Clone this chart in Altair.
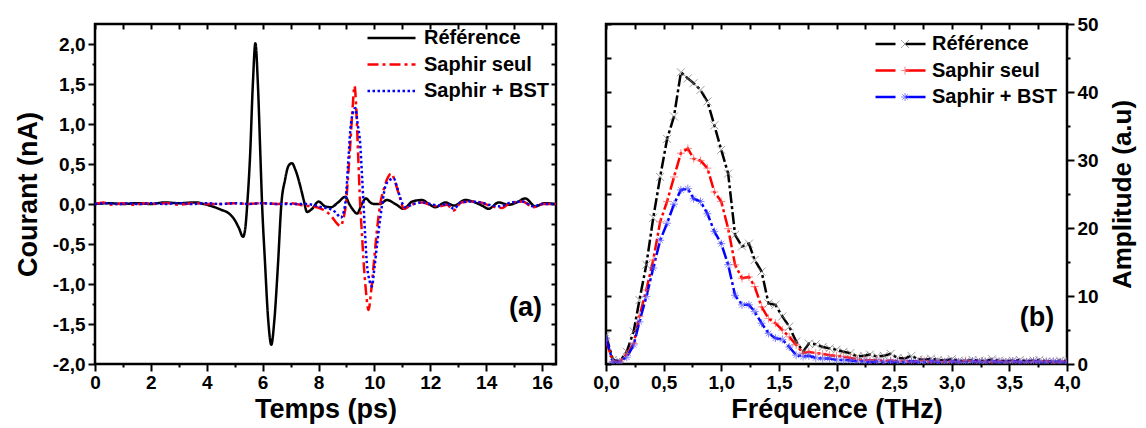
import altair as alt
import pandas as pd

FONT = "Liberation Sans"
SERIES = ["Référence", "Saphir seul", "Saphir + BST"]
MARKERS = ["Référence ×", "Saphir seul +", "Saphir + BST *"]

# ---------------- (a) time-domain signals ----------------
ref_t = [0.0, 0.5, 1.0, 1.5, 2.0, 2.5, 3.0, 3.6, 3.9, 4.2, 4.5, 4.8, 5.0, 5.15, 5.3,
         5.38, 5.45, 5.55, 5.65, 5.74, 5.83, 5.92, 5.98, 6.08, 6.2, 6.31, 6.42, 6.55,
         6.67, 6.8, 6.93, 7.05, 7.17, 7.35, 7.47, 7.59, 7.77, 8.0, 8.24, 8.45, 8.7,
         8.96, 9.1, 9.25, 9.38, 9.55, 9.7, 9.85, 10.0, 10.2, 10.45, 10.75, 11.05,
         11.35, 11.7, 11.95, 12.18, 12.54, 12.85, 13.25, 13.6, 13.85, 14.09, 14.45,
         14.8, 15.1, 15.4, 15.76, 16.1, 16.5]
ref_i = [0.0, 0.01, 0.0, 0.01, 0.0, 0.02, 0.01, 0.02, 0.0, -0.03, -0.07, -0.12, -0.2,
         -0.3, -0.41, -0.3, 0.0, 0.6, 1.5, 2.01, 1.5, 0.6, 0.0, -0.7, -1.45, -1.76,
         -1.45, -0.75, 0.0, 0.3, 0.48, 0.51, 0.43, 0.22, 0.05, -0.1, -0.06, 0.03,
         -0.03, -0.04, 0.02, 0.09, 0.0, -0.08, -0.12, 0.0, 0.07, 0.02, 0.0, 0.0, 0.05,
         0.0, -0.06, 0.03, 0.05, 0.0, -0.04, 0.02, -0.02, 0.05, 0.02, -0.02, -0.06,
         0.02, -0.01, 0.02, 0.07, -0.03, 0.01, 0.0]

seul_t = [0.0, 0.3, 0.6, 1.0, 1.4, 1.8, 2.2, 2.6, 3.0, 3.5, 4.0, 4.5, 5.0, 5.5, 6.0,
          6.5, 7.0, 7.5, 7.8, 8.1, 8.3, 8.5, 8.65, 8.78, 8.88, 8.98, 9.06, 9.14, 9.22,
          9.29, 9.35, 9.42, 9.49, 9.55, 9.61, 9.7, 9.79, 9.88, 9.98, 10.1, 10.21,
          10.35, 10.48, 10.6, 10.72, 10.85, 10.93, 11.05, 11.2, 11.4, 11.7, 12.0, 12.3,
          12.6, 12.84, 13.1, 13.4, 13.8, 14.1, 14.57, 14.9, 15.3, 15.7, 16.0, 16.5]
seul_i = [0.0, 0.02, -0.01, 0.01, -0.01, 0.01, 0.0, 0.01, -0.01, 0.01, 0.0, 0.0, 0.01,
          0.0, 0.01, 0.0, 0.01, -0.02, -0.03, -0.06, -0.1, -0.17, -0.24, -0.275, -0.2,
          0.0, 0.35, 0.76, 1.2, 1.475, 1.2, 0.6, 0.0, -0.35, -0.7, -1.1, -1.325, -1.1,
          -0.74, -0.3, 0.0, 0.2, 0.33, 0.38, 0.3, 0.15, 0.06, -0.06, -0.04, 0.0, 0.02,
          -0.01, -0.03, -0.01, -0.08, 0.02, 0.03, 0.02, -0.02, -0.05, 0.02, 0.03, -0.04,
          0.0, 0.0]

bst_t = [0.0, 0.4, 0.8, 1.2, 1.6, 2.0, 2.5, 3.0, 3.5, 4.0, 4.5, 5.0, 5.5, 6.0, 6.5,
         7.0, 7.5, 7.8, 8.1, 8.4, 8.6, 8.8, 8.9, 8.98, 9.06, 9.14, 9.24, 9.32, 9.4,
         9.49, 9.55, 9.61, 9.67, 9.73, 9.82, 9.91, 10.0, 10.1, 10.2, 10.28, 10.4,
         10.55, 10.69, 10.82, 10.95, 11.1, 11.4, 11.7, 12.0, 12.3, 12.6, 12.84, 13.1,
         13.4, 13.8, 14.1, 14.5, 14.9, 15.3, 15.7, 16.0, 16.5]
bst_i = [0.0, 0.01, 0.0, 0.01, 0.0, 0.01, 0.0, 0.01, 0.0, 0.01, 0.0, 0.01, 0.0, 0.01,
         0.0, 0.0, 0.0, -0.01, -0.04, -0.06, -0.1, -0.17, -0.1, 0.08, 0.5, 0.93, 1.15,
         1.2, 1.0, 0.76, 0.4, 0.0, -0.4, -0.74, -0.95, -1.03, -0.8, -0.49, -0.2, 0.0,
         0.23, 0.3, 0.32, 0.2, 0.05, -0.04, 0.0, 0.02, 0.0, -0.02, 0.0, -0.06, 0.02,
         0.03, 0.02, -0.01, -0.03, 0.02, 0.03, -0.03, 0.0, 0.0]

# ---------------- (b) spectra ----------------
freq = [0.00, 0.06, 0.12, 0.18, 0.24, 0.29, 0.35, 0.41, 0.47, 0.53, 0.59, 0.65, 0.71,
        0.76, 0.82, 0.88, 0.94, 1.00, 1.06, 1.12, 1.18, 1.24, 1.29, 1.35, 1.41, 1.47,
        1.53, 1.59, 1.65, 1.71, 1.76, 1.82, 1.88, 1.94, 2.00, 2.06, 2.12, 2.18, 2.24,
        2.29, 2.35, 2.41, 2.47, 2.53, 2.59, 2.65, 2.71, 2.76, 2.82, 2.88, 2.94, 3.00,
        3.06, 3.12, 3.18, 3.24, 3.29, 3.35, 3.41, 3.47, 3.53, 3.59, 3.65, 3.71, 3.76,
        3.82, 3.88, 3.94, 4.00]
amp_ref = [4.2, 0.6, 0.4, 1.8, 4.8, 9.4, 14.6, 21.5, 27.5, 33.1, 36.4, 42.9, 42.0, 41.3,
           40.3, 38.6, 35.1, 31.5, 28.0, 19.0, 17.3, 17.7, 15.3, 13.6, 8.9, 8.7, 7.0,
           5.5, 3.3,
           1.8, 3.0, 2.9, 2.5, 2.3, 2.1, 1.8, 1.6, 1.1,
           1.2, 1.4, 1.1, 1.2, 1.5, 0.9, 0.8, 1.2, 0.7, 0.6, 0.8, 0.6, 0.5, 0.7, 0.5,
           0.4, 0.6, 0.5, 0.4, 0.7, 0.5, 0.4, 0.5, 0.6, 0.4, 0.5, 0.6, 0.4, 0.3, 0.5, 0.4]
amp_seul = [3.4, 0.4, 0.3, 1.5, 3.0, 7.0, 10.9, 15.3, 20.9, 23.9, 27.5, 31.0, 31.7, 30.2,
            29.9, 28.8, 25.3, 23.9, 19.9, 14.6, 12.6, 12.8, 11.4, 8.4, 6.7, 6.0, 5.0,
            4.0, 2.8,
            1.6, 1.8, 1.6, 1.5, 1.3, 1.2, 1.1, 0.9, 0.7, 0.6,
            0.5, 0.6, 0.4, 0.5, 0.4, 0.5, 0.3, 0.4, 0.5, 0.3,
            0.4, 0.3, 0.4, 0.3, 0.5, 0.4, 0.3, 0.4, 0.3, 0.4,
            0.3, 0.4, 0.3, 0.3, 0.4, 0.3, 0.4, 0.3, 0.3, 0.4]
amp_bst = [3.8, 0.3, 0.3, 1.0, 2.8, 6.2, 9.9, 14.1, 18.2, 20.7, 23.5, 25.6, 25.8, 24.3,
           23.9, 22.1, 19.5, 17.7, 14.6, 10.1, 8.7, 8.7, 7.7, 6.0, 4.5, 3.8, 3.6, 2.5,
           1.3,
           1.1, 1.2, 0.9, 0.8, 0.8, 0.6, 0.6, 0.5, 0.4, 0.4,
           0.3, 0.4, 0.3, 0.4, 0.3, 0.3, 0.4, 0.3, 0.3, 0.4,
           0.3, 0.3, 0.4, 0.3, 0.3, 0.4, 0.3, 0.3, 0.4, 0.3,
           0.3, 0.4, 0.3, 0.3, 0.4, 0.3, 0.3, 0.4, 0.3, 0.3]

# tick values
time_major = [0, 2, 4, 6, 8, 10, 12, 14, 16]
time_minor = [1, 3, 5, 7, 9, 11, 13, 15]
time_all = [0, 1, 2, 3, 4, 5, 6, 7, 8, 9, 10, 11, 12, 13, 14, 15, 16]
cur_major = [-2.0, -1.5, -1.0, -0.5, 0.0, 0.5, 1.0, 1.5, 2.0]
cur_minor = [-1.75, -1.25, -0.75, -0.25, 0.25, 0.75, 1.25, 1.75]
cur_all = [-2.0, -1.75, -1.5, -1.25, -1.0, -0.75, -0.5, -0.25, 0.0, 0.25, 0.5, 0.75,
           1.0, 1.25, 1.5, 1.75, 2.0]
freq_major = [0.0, 0.5, 1.0, 1.5, 2.0, 2.5, 3.0, 3.5, 4.0]
freq_minor = [0.25, 0.75, 1.25, 1.75, 2.25, 2.75, 3.25, 3.75]
freq_all = [0.0, 0.25, 0.5, 0.75, 1.0, 1.25, 1.5, 1.75, 2.0, 2.25, 2.5, 2.75, 3.0,
            3.25, 3.5, 3.75, 4.0]
amp_major = [0, 10, 20, 30, 40, 50]
amp_minor = [5, 15, 25, 35, 45]
amp_all = [0, 5, 10, 15, 20, 25, 30, 35, 40, 45, 50]

label_a = ["(a)"]
label_a_t = [16.0]
label_a_i = [-1.3]
label_b = ["(b)"]
label_b_f = [3.89]
label_b_a = [6.8]

# ---------------- data frames ----------------
df_a = pd.concat([
    pd.DataFrame({"t": ref_t, "i": ref_i, "courbe": SERIES[0]}),
    pd.DataFrame({"t": seul_t, "i": seul_i, "courbe": SERIES[1]}),
    pd.DataFrame({"t": bst_t, "i": bst_i, "courbe": SERIES[2]}),
], ignore_index=True)
df_b = pd.concat([
    pd.DataFrame({"f": freq, "a": amp_ref, "spectre": SERIES[0], "marque": MARKERS[0]}),
    pd.DataFrame({"f": freq, "a": amp_seul, "spectre": SERIES[1], "marque": MARKERS[1]}),
    pd.DataFrame({"f": freq, "a": amp_bst, "spectre": SERIES[2], "marque": MARKERS[2]}),
], ignore_index=True)
df_la = pd.DataFrame({"t": label_a_t, "i": label_a_i, "txt": label_a})
df_lb = pd.DataFrame({"f": label_b_f, "a": label_b_a, "txt": label_b})

W, H = 461, 340
comma1 = "(datum.value < 0 ? '-' : '') + replace(format(abs(datum.value), '.1f'), '.', ',')"


def axis(**kw):
    d = dict(domain=False, grid=False, labelFlush=False, labelOverlap=False,
             tickColor="black", tickWidth=2)
    d.update(kw)
    return alt.Axis(**d)


def blank_axis(orient, values, size, offset=0):
    kw = dict(orient=orient, values=values, tickSize=size, labels=False, title=None)
    if offset:
        kw["offset"] = offset
    return axis(**kw)


def legend(**kw):
    d = dict(orient="none", direction="vertical", title=None, padding=0,
             clipHeight=22, rowPadding=4.5, labelFont=FONT, labelFontSize=20,
             labelFontWeight="bold", labelColor="black")
    d.update(kw)
    return alt.Legend(**d)


# ---------------- panel (a) ----------------
xa = alt.Scale(domain=[0, 16.5], nice=False, zero=False)
ya = alt.Scale(domain=[-2, 2.25], nice=False, zero=False)
leg_a = legend(legendX=271, legendY=3, symbolType="M-1,0L1,0", symbolSize=2304,
               symbolStrokeWidth=2.5, labelOffset=7)

lines_a = alt.Chart().mark_line(strokeWidth=2.5, interpolate="monotone", clip=True).encode(
    x=alt.X("t:Q", scale=xa, axis=axis(orient="bottom", values=time_major, tickSize=7,
                                       labelPadding=2, title="Temps (ps)", titlePadding=4)),
    y=alt.Y("i:Q", scale=ya, axis=axis(orient="left", values=cur_major, tickSize=7,
                                       labelPadding=3, labelExpr=comma1,
                                       title="Courant (nA)", titlePadding=10)),
    color=alt.Color("courbe:N", scale=alt.Scale(domain=SERIES, range=["#000000", "#ff0000", "#0000ff"]),
                    legend=leg_a),
    strokeDash=alt.StrokeDash("courbe:N", scale=alt.Scale(domain=SERIES, range=[[1, 0], [11, 4, 3, 4], [2.5, 2.5]]),
                              legend=leg_a),
)
minor_a = alt.Chart().mark_point(opacity=0).encode(
    x=alt.X("t:Q", scale=xa, axis=blank_axis("bottom", time_minor, 3)),
    y=alt.Y("i:Q", scale=ya, axis=blank_axis("left", cur_minor, 3)),
)
frame_a = alt.Chart().mark_point(opacity=0).encode(
    x=alt.X("t:Q", scale=xa, axis=blank_axis("bottom", time_all, 5, -H)),
    y=alt.Y("i:Q", scale=ya, axis=blank_axis("left", cur_all, 5, -W)),
)
text_a = alt.Chart(df_la).mark_text(font=FONT, fontSize=27, fontWeight="bold",
                                    align="right", baseline="middle", color="black").encode(
    x=alt.X("t:Q", scale=xa, axis=None),
    y=alt.Y("i:Q", scale=ya, axis=None),
    text="txt:N",
)
left = alt.layer(lines_a, minor_a, frame_a, text_a, data=df_a).resolve_axis(
    x="independent", y="independent").properties(width=W, height=H)

# ---------------- panel (b) ----------------
xb = alt.Scale(domain=[0, 4], nice=False, zero=False)
yb = alt.Scale(domain=[0, 50], nice=False, zero=False)
leg_b_line = legend(legendX=268, legendY=9, symbolType="M-1,0L-0.2,0M0.2,0L1,0",
                    symbolSize=2500, symbolStrokeWidth=2.5, labelOffset=5)
leg_b_mark = legend(legendX=289, legendY=9, symbolSize=64, symbolStrokeWidth=1,
                    labelExpr="''")

path_x = "M-1,-1L1,1M-1,1L1,-1"
path_plus = "M-1,0L1,0M0,-1L0,1"
path_star = "M-1,0L1,0M0,-1L0,1M-0.7,-0.7L0.7,0.7M-0.7,0.7L0.7,-0.7"

lines_b = alt.Chart().mark_line(strokeWidth=2.5, strokeDash=[12, 3, 3, 3], clip=True).encode(
    x=alt.X("f:Q", scale=xb, axis=axis(orient="bottom", values=freq_major, tickSize=7,
                                       labelPadding=2, labelExpr=comma1,
                                       title="Fréquence (THz)", titlePadding=4)),
    y=alt.Y("a:Q", scale=yb, axis=axis(orient="right", values=amp_major, tickSize=7,
                                       labelPadding=3, title="Amplitude (a.u)", titleFontSize=26,
                                       titleAngle=270, titleBaseline="top", titlePadding=11)),
    color=alt.Color("spectre:N", scale=alt.Scale(domain=SERIES, range=["#000000", "#ff0000", "#0000ff"]),
                    legend=leg_b_line),
)
pts_b = alt.Chart().mark_point(filled=False, size=64, strokeWidth=1, clip=True).encode(
    x=alt.X("f:Q", scale=xb, axis=blank_axis("bottom", freq_minor, 3)),
    y=alt.Y("a:Q", scale=yb, axis=blank_axis("right", amp_minor, 3)),
    stroke=alt.Stroke("marque:N", scale=alt.Scale(domain=MARKERS, range=["#777777", "#ff5555", "#5555ff"]),
                      legend=leg_b_mark),
    shape=alt.Shape("marque:N", scale=alt.Scale(domain=MARKERS, range=[path_x, path_plus, path_star]),
                    legend=leg_b_mark),
)
frame_b = alt.Chart().mark_point(opacity=0).encode(
    x=alt.X("f:Q", scale=xb, axis=blank_axis("bottom", freq_all, 5, -H)),
    y=alt.Y("a:Q", scale=yb, axis=blank_axis("right", amp_all, 5, -W)),
)
text_b = alt.Chart(df_lb).mark_text(font=FONT, fontSize=27, fontWeight="bold",
                                    align="right", baseline="middle", color="black").encode(
    x=alt.X("f:Q", scale=xb, axis=None),
    y=alt.Y("a:Q", scale=yb, axis=None),
    text="txt:N",
)
right = alt.layer(lines_b, pts_b, frame_b, text_b, data=df_b).resolve_axis(
    x="independent", y="independent").properties(width=W, height=H)

chart = alt.hconcat(left, right, spacing=50, bounds="flush").resolve_scale(
    x="independent", y="independent", color="independent", strokeDash="independent",
    stroke="independent", shape="independent"
).properties(
    padding={"left": 5, "top": 5, "right": 0, "bottom": 0},
    background="white",
).configure_view(
    stroke="black", strokeWidth=2.5
).configure_axis(
    labelFont=FONT, labelFontSize=19, labelFontWeight="bold", labelColor="black",
    titleFont=FONT, titleFontSize=27, titleFontWeight="bold", titleColor="black",
)

chart.save("out.html", embed_options={"renderer": "svg", "actions": False})
